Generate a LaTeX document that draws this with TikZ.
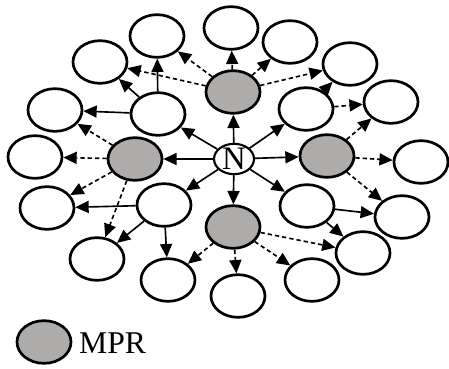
\documentclass[tikz,border=0pt]{standalone}
\usepackage{fontspec}
\setmainfont{Liberation Serif}
\usetikzlibrary{shapes.geometric,arrows.meta}

\definecolor{mprGray}{HTML}{AEABAB}

\tikzset{
  host/.style={ellipse,draw,fill=white,line width=2.3pt,inner sep=0pt,
    minimum width=1.62cm,minimum height=1.28cm},
  mpr/.style={host,fill=mprGray},
  hop/.style={-{Triangle[length=0.4cm,width=0.36cm]},line width=1.4pt},
  relay/.style={hop,dash pattern=on 0.13cm off 0.09cm},
}

\begin{document}
\begin{tikzpicture}[x=0.03cm,y=-0.03cm]
  \useasboundingbox (0,0) rectangle (449,369);

  % ordinary hosts
  \foreach \name/\x/\y in {
    h1/157/36, h2/100/62, h3/231/28, h4/290/42, h5/350/64,
    h6/391/102, h7/306/109, h8/158/114, h9/55/110, h10/35/157,
    h11/47/208, h12/164/205, h13/97/259, h14/168/280, h15/238/296,
    h16/312/280, h17/363/253, h18/402/217, h19/307/206, h20/421/162
  }{
    \node[host] (\name) at (\x,\y) {};
  }

  % relays chosen by N
  \foreach \name/\x/\y in {mT/233/92, mL/135/159, mR/327/156, mB/233/227}{
    \node[mpr] (\name) at (\x,\y) {};
  }

  \node[ellipse,draw,fill=white,line width=1.8pt,inner sep=0pt,
    minimum width=1.2cm,minimum height=0.84cm,
    font=\fontsize{28}{32}\selectfont] (n) at (234,159) {N};

  % one-hop links
  \foreach \a/\b in {n/mT, n/mL, n/mR, n/mB, n/h8, n/h7, n/h12, n/h19,
    h8/h9, h8/h2, h8/h1, h12/h11, h12/h13, h12/h14,
    h19/h18, h19/h17, h7/h5}{
    \draw[hop] (\a) -- (\b);
  }

  % links forwarded by the relays
  \foreach \a/\b in {mT/h3, mT/h4, mT/h5, mT/h1, mT/h2,
    mL/h9, mL/h10, mL/h11, mL/h13,
    mB/h14, mB/h15, mB/h16, mB/h17,
    mR/h6, mR/h20, mR/h18, h7/h6}{
    \draw[relay] (\a) -- (\b);
  }

  % legend
  \node[mpr] (key) at (44,342) {};
  \node[anchor=west,inner sep=0pt,font=\fontsize{27}{31}\selectfont]
    (keytext) at (79,343) {MPR};
\end{tikzpicture}
\end{document}
